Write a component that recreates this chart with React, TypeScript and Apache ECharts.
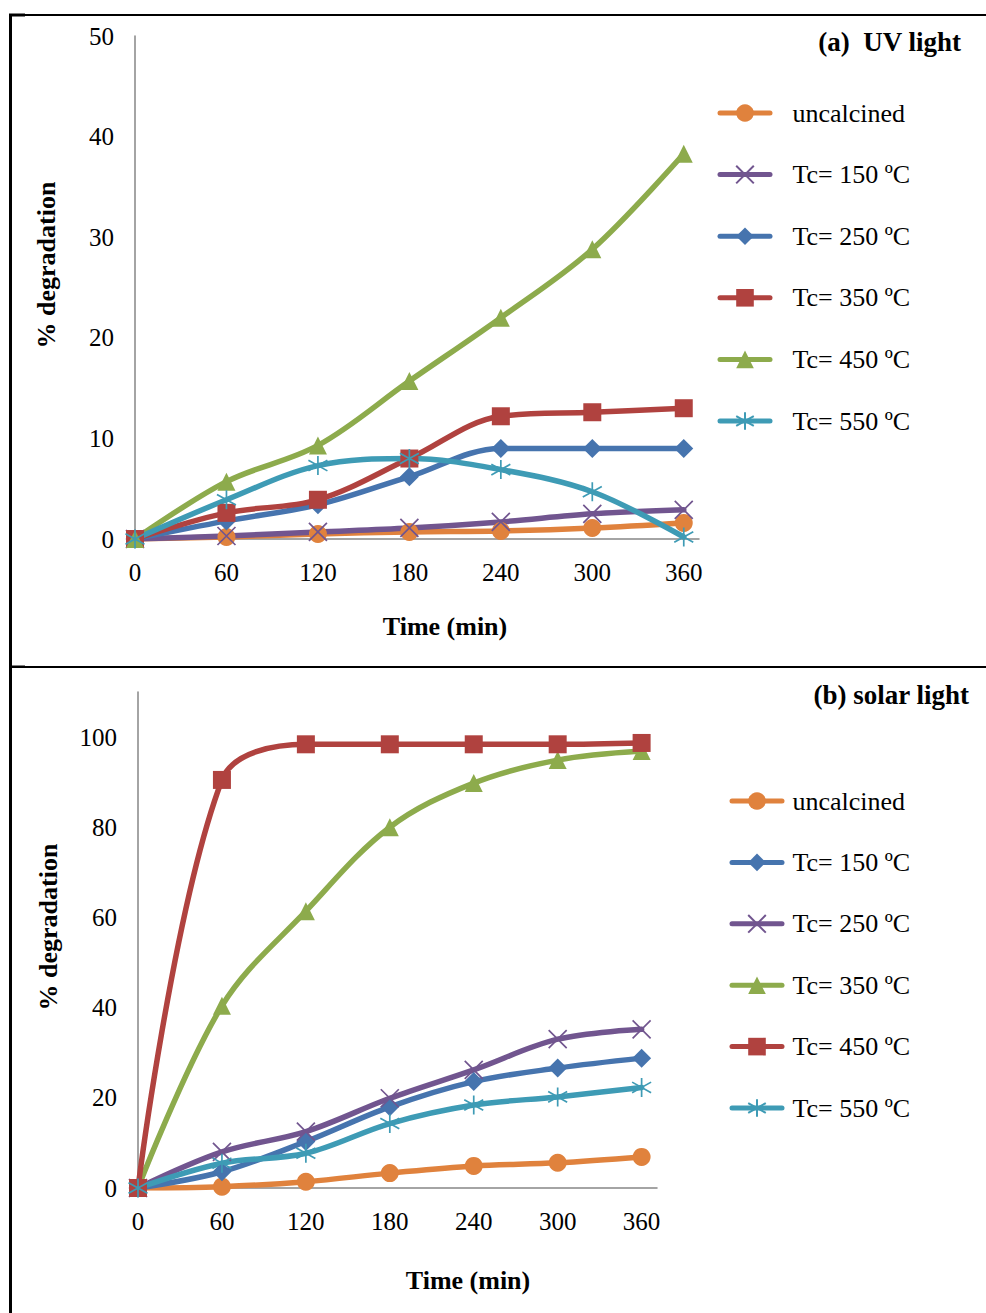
import React, { useEffect, useRef } from "react";
import * as echarts from "echarts";

const times = [0, 60, 120, 180, 240, 300, 360];
const xTicks = [0, 60, 120, 180, 240, 300, 360];

const seriesNames = ["uncalcined", "Tc= 150 ºC", "Tc= 250 ºC", "Tc= 350 ºC", "Tc= 450 ºC", "Tc= 550 ºC"];

// (a) UV light
const uvUncalcined = [0, 0.2, 0.5, 0.7, 0.8, 1.1, 1.6];
const uvTc150 = [0, 0.3, 0.7, 1.1, 1.7, 2.5, 2.9];
const uvTc250 = [0, 1.8, 3.4, 6.2, 9.0, 9.0, 9.0];
const uvTc350 = [0, 2.6, 3.9, 8.0, 12.2, 12.6, 13.0];
const uvTc450 = [0, 5.7, 9.3, 15.7, 22.0, 28.8, 38.3];
const uvTc550 = [0, 3.9, 7.3, 8.0, 6.9, 4.7, 0.2];

// (b) solar light
const solUncalcined = [0, 0.3, 1.4, 3.3, 4.9, 5.6, 6.9];
const solTc150 = [0, 3.6, 10.3, 18.0, 23.6, 26.6, 28.8];
const solTc250 = [0, 8.0, 12.5, 19.9, 26.2, 33.0, 35.2];
const solTc350 = [0, 40.4, 61.4, 80.0, 89.8, 94.9, 96.9];
const solTc450 = [0, 90.5, 98.4, 98.4, 98.4, 98.4, 98.7];
const solTc550 = [0, 5.5, 7.7, 14.3, 18.4, 20.2, 22.3];

const C = {
  orange: "#E0823D",
  purple: "#71558F",
  blue: "#4674AE",
  red: "#B0423F",
  green: "#8DAB4C",
  cyan: "#3E9BB5",
};

const FONT = "'Liberation Serif', 'Times New Roman', serif";

type Mk = "circle" | "x" | "diamond" | "rect" | "triangle" | "star";

const X_PATH = "path://M0,0L10,10M10,0L0,10";
const STAR_PATH = "path://M5,0L5,10M0,2.2L10,7.8M0,7.8L10,2.2";

const LINE_W = 5.5;

function makeSeries(name: string, values: number[], color: string, mk: Mk) {
  const stroked = mk === "x" || mk === "star";
  let symbol: string = mk;
  let size = 18;
  if (mk === "x") { symbol = X_PATH; size = 18; }
  if (mk === "star") { symbol = STAR_PATH; size = 19; }
  if (mk === "diamond") size = 19;
  if (mk === "circle") size = 18;
  return {
    type: "line",
    name,
    data: times.map((t, i) => [t, values[i]]),
    smooth: 0.35,
    symbol,
    symbolSize: size,
    showAllSymbol: true,
    lineStyle: { color, width: LINE_W, cap: "round" },
    itemStyle: stroked
      ? { color: "rgba(0,0,0,0)", borderColor: color, borderWidth: 1.7 }
      : { color, borderWidth: 0 },
    emphasis: { disabled: true },
  };
}

function axisCommon() {
  return {
    axisLine: { show: true, lineStyle: { color: "#868686", width: 1.5 } },
    axisTick: { show: false },
    splitLine: { show: false },
    axisLabel: { color: "#000", fontSize: 25, fontFamily: FONT },
  };
}

function legendOpt(left: number, top: number, textPad: number, gap: number, names: string[]) {
  return {
    orient: "vertical",
    left,
    top,
    padding: 0,
    itemWidth: 50,
    itemHeight: 22,
    itemGap: gap,
    data: names,
    selectedMode: false,
    lineStyle: { width: 5, cap: "round" },
    textStyle: { color: "#000", fontSize: 26, fontFamily: FONT, lineHeight: 25, padding: [0, 0, 0, textPad] },
  };
}

export default function App() {
  const topRef = useRef<HTMLDivElement>(null);
  const botRef = useRef<HTMLDivElement>(null);

  useEffect(() => {
    const top = echarts.init(topRef.current!, null, { renderer: "svg" });
    const bot = echarts.init(botRef.current!, null, { renderer: "svg" });

    const topSeries = [
      makeSeries(seriesNames[0], uvUncalcined, C.orange, "circle"),
      makeSeries(seriesNames[1], uvTc150, C.purple, "x"),
      makeSeries(seriesNames[2], uvTc250, C.blue, "diamond"),
      makeSeries(seriesNames[3], uvTc350, C.red, "rect"),
      makeSeries(seriesNames[4], uvTc450, C.green, "triangle"),
      makeSeries(seriesNames[5], uvTc550, C.cyan, "star"),
    ];
    const botSeries = [
      makeSeries(seriesNames[0], solUncalcined, C.orange, "circle"),
      makeSeries(seriesNames[1], solTc150, C.blue, "diamond"),
      makeSeries(seriesNames[2], solTc250, C.purple, "x"),
      makeSeries(seriesNames[3], solTc350, C.green, "triangle"),
      makeSeries(seriesNames[4], solTc450, C.red, "rect"),
      makeSeries(seriesNames[5], solTc550, C.cyan, "star"),
    ];

    const xLabelFmt = (v: number) => (xTicks.includes(v) ? String(v) : "");
    const titleFont = `bold 27px ${FONT}`;
    const axisTitleFont = `bold 26px ${FONT}`;

    top.setOption({
      animation: false,
      grid: { left: 135, right: 287, top: 36, bottom: 129, containLabel: false },
      xAxis: {
        type: "value",
        min: 0,
        max: 370,
        interval: 60,
        ...axisCommon(),
        axisLabel: { ...axisCommon().axisLabel, margin: 21, showMaxLabel: false, formatter: xLabelFmt },
      },
      yAxis: {
        type: "value",
        min: 0,
        max: 50,
        interval: 10,
        ...axisCommon(),
        axisLabel: { ...axisCommon().axisLabel, margin: 21 },
      },
      legend: legendOpt(717.5, 100, 17.5, 35.6, seriesNames),
      series: topSeries,
      graphic: [
        { type: "line", shape: { x1: 9, y1: 15, x2: 986, y2: 15 }, style: { stroke: "#000", lineWidth: 2 } },
        { type: "line", shape: { x1: 9, y1: 15, x2: 25, y2: 15 }, style: { stroke: "#000", lineWidth: 3 } },
        { type: "line", shape: { x1: 10.5, y1: 14, x2: 10.5, y2: 668 }, style: { stroke: "#000", lineWidth: 3 } },
        { type: "line", shape: { x1: 9, y1: 667, x2: 986, y2: 667 }, style: { stroke: "#000", lineWidth: 2 } },
        { type: "line", shape: { x1: 9, y1: 667, x2: 25, y2: 667 }, style: { stroke: "#000", lineWidth: 3 } },
        {
          type: "text", x: 961, y: 42,
          style: { text: "(a)  UV light", fill: "#000", font: titleFont, textAlign: "right", textVerticalAlign: "middle" },
        },
        {
          type: "text", x: 445, y: 626,
          style: { text: "Time (min)", fill: "#000", font: axisTitleFont, textAlign: "center", textVerticalAlign: "middle" },
        },
        {
          type: "text", x: 46, y: 265, rotation: Math.PI / 2,
          style: { text: "% degradation", fill: "#000", font: axisTitleFont, textAlign: "center", textVerticalAlign: "middle" },
        },
      ],
    });

    bot.setOption({
      animation: false,
      grid: { left: 138, right: 329, top: 24, bottom: 125, containLabel: false },
      xAxis: {
        type: "value",
        min: 0,
        max: 371,
        interval: 60,
        ...axisCommon(),
        axisLabel: { ...axisCommon().axisLabel, margin: 21, showMaxLabel: false, formatter: xLabelFmt },
      },
      yAxis: {
        type: "value",
        min: 0,
        max: 110,
        interval: 20,
        ...axisCommon(),
        axisLabel: { ...axisCommon().axisLabel, margin: 21, showMaxLabel: false, formatter: (v: number) => (v <= 100 ? String(v) : "") },
      },
      legend: legendOpt(729.5, 120, 5.5, 35.4, seriesNames),
      series: botSeries,
      graphic: [
        { type: "line", shape: { x1: 10.5, y1: 0, x2: 10.5, y2: 645 }, style: { stroke: "#000", lineWidth: 3 } },
        {
          type: "text", x: 969, y: 695 - 668,
          style: { text: "(b) solar light", fill: "#000", font: titleFont, textAlign: "right", textVerticalAlign: "middle" },
        },
        {
          type: "text", x: 468, y: 1280 - 668,
          style: { text: "Time (min)", fill: "#000", font: axisTitleFont, textAlign: "center", textVerticalAlign: "middle" },
        },
        {
          type: "text", x: 48, y: 927 - 668, rotation: Math.PI / 2,
          style: { text: "% degradation", fill: "#000", font: axisTitleFont, textAlign: "center", textVerticalAlign: "middle" },
        },
      ],
    });

    return () => {
      top.dispose();
      bot.dispose();
    };
  }, []);

  return (
    <div style={{ position: "absolute", left: 0, top: 0, width: 986, height: 1313, background: "#fff" }}>
      <div ref={topRef} style={{ position: "absolute", left: 0, top: 0, width: 986, height: 668 }} />
      <div ref={botRef} style={{ position: "absolute", left: 0, top: 668, width: 986, height: 645 }} />
    </div>
  );
}
